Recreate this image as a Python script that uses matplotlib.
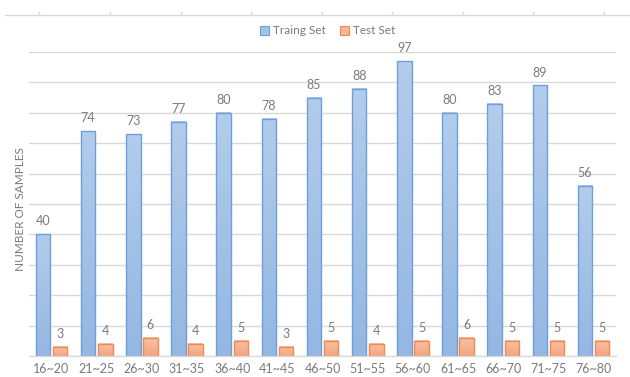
import numpy as np
import matplotlib
matplotlib.use("Agg")
import matplotlib.pyplot as plt
from matplotlib.colors import LinearSegmentedColormap
from matplotlib.lines import Line2D

age_groups = ["16~20", "21~25", "26~30", "31~35", "36~40", "41~45", "46~50",
              "51~55", "56~60", "61~65", "66~70", "71~75", "76~80"]
train_counts = [40, 74, 73, 77, 80, 78, 85, 88, 97, 80, 83, 89, 56]
test_counts = [3, 4, 6, 4, 5, 3, 5, 4, 5, 6, 5, 5, 5]

plt.rcParams['font.family'] = ['Lato', 'DejaVu Sans']
txt_col = '#7a7a7a'
grid_col = '#d9d9d9'

fig = plt.figure(figsize=(6.3, 3.77), dpi=100)
ax = fig.add_axes([0.046, 0.0557, 0.932, 0.8063])

x = np.arange(len(age_groups))
w = 0.32
off = 0.19

blue_cmap = LinearSegmentedColormap.from_list('b', ['#94b7e3', '#b2cceb'])
orange_cmap = LinearSegmentedColormap.from_list('o', ['#f4a47f', '#f9c2a4'])
grad = np.linspace(0, 1, 64).reshape(-1, 1)


def draw_bars(xs, vals, cmap, edge):
    bars = ax.bar(xs, vals, w, facecolor='none', edgecolor=edge, linewidth=1.0, zorder=3)
    for b in bars:
        x0 = b.get_x()
        h = b.get_height()
        ax.imshow(grad, extent=[x0, x0 + w, 0, h], origin='lower', aspect='auto',
                  cmap=cmap, zorder=2, interpolation='bilinear')
    for xi, v in zip(xs, vals):
        ax.annotate(str(v), (xi, v), xytext=(0, 5), textcoords='offset points',
                    ha='center', va='bottom', fontsize=9, color=txt_col,
                    annotation_clip=False)


draw_bars(x - off, train_counts, blue_cmap, '#6e9fd8')
draw_bars(x + off, test_counts, orange_cmap, '#ee8b55')

ax.set_xlim(-0.5, len(age_groups) - 0.5)
ax.set_ylim(0, 100)
ax.set_yticks(np.arange(0, 101, 10))
ax.set_yticklabels([])
ax.yaxis.grid(True, color=grid_col, linewidth=1.0, zorder=0)
ax.set_axisbelow(True)
ax.set_xticks(x)
ax.set_xticklabels(age_groups, fontsize=9, color=txt_col)
ax.tick_params(length=0, pad=5)
for s in ['top', 'right', 'left']:
    ax.spines[s].set_visible(False)
ax.spines['bottom'].set_color(grid_col)
ax.spines['bottom'].set_linewidth(1.0)
ax.spines['bottom'].set_zorder(4)

fig.text(0.032, 0.446, 'NUMBER OF SAMPLES', rotation=90, ha='center', va='center',
         fontsize=8.5, color=txt_col)

handles = [plt.Rectangle((0, 0), 1, 1, facecolor='#a3c2e8', edgecolor='#6e9fd8', linewidth=0.8),
           plt.Rectangle((0, 0), 1, 1, facecolor='#f7b592', edgecolor='#ee8b55', linewidth=0.8)]
fig.legend(handles, ['Traing Set', 'Test Set'], loc='center', bbox_to_anchor=(0.52, 0.918),
           ncol=2, frameon=False, fontsize=8.5, handlelength=0.8, handleheight=0.8,
           handletextpad=0.3, columnspacing=1.2, labelcolor=txt_col)

# leftover axis line from the chart above
fig.add_artist(Line2D([5 / 630, 1], [1 - 15 / 377] * 2, color=grid_col, linewidth=1.0))
for tx in [39, 110, 181, 251, 322, 392, 463, 533, 604]:
    fig.add_artist(Line2D([tx / 630] * 2, [1 - 15 / 377, 1 - 12 / 377], color=grid_col, linewidth=1.0))

fig.savefig('out.png', dpi=100)
